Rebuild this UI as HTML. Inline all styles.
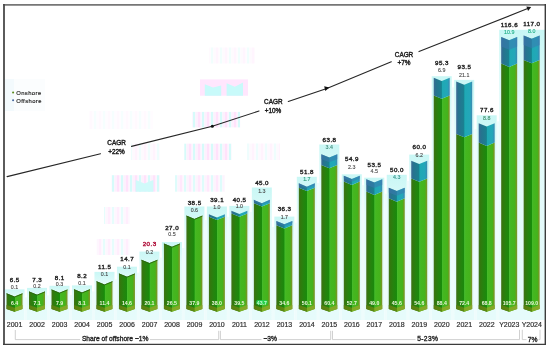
<!DOCTYPE html>
<html><head><meta charset="utf-8">
<style>
html,body{margin:0;padding:0;background:#fff;}
body{width:550px;height:349px;overflow:hidden;}
svg{display:block;will-change:transform;}
text{font-family:"Liberation Sans",sans-serif;text-anchor:middle;}
.tot{font-size:6.2px;stroke-width:0.4px;letter-spacing:0.45px;}
.off{font-size:5.3px;stroke-width:0.12px;}
.on{font-size:5.2px;font-weight:bold;fill:#eef8dc;}
.yr{font-size:7px;fill:#2e2e2e;stroke:#2e2e2e;stroke-width:0.18px;}
.cagr{font-size:6.4px;fill:#1e1e1e;stroke:#1e1e1e;stroke-width:0.4px;}
.lg{font-size:5.9px;fill:#1c1c1c;stroke:#1c1c1c;stroke-width:0.15px;letter-spacing:0.4px;text-anchor:start;}
.br{font-size:6.7px;fill:#262626;stroke:#262626;stroke-width:0.35px;}
</style></head>
<body>
<svg width="550" height="349" viewBox="0 0 550 349">
<defs>
<linearGradient id="gOn" x1="0" x2="1" y1="0" y2="0">
 <stop offset="0" stop-color="#44701a"/>
 <stop offset="0.1" stop-color="#32790e"/>
 <stop offset="0.3" stop-color="#24840e"/>
 <stop offset="0.47" stop-color="#1b890c"/>
 <stop offset="0.5" stop-color="#189009"/>
 <stop offset="0.52" stop-color="#46b92e"/>
 <stop offset="0.6" stop-color="#44b720"/>
 <stop offset="0.86" stop-color="#45b31c"/>
 <stop offset="0.93" stop-color="#6c9d20"/>
 <stop offset="1" stop-color="#7c962a"/>
</linearGradient>
<linearGradient id="gOff" x1="0" x2="1" y1="0" y2="0">
 <stop offset="0" stop-color="#3e6a94"/>
 <stop offset="0.14" stop-color="#27738f"/>
 <stop offset="0.46" stop-color="#1b8091"/>
 <stop offset="0.5" stop-color="#168a96"/>
 <stop offset="0.53" stop-color="#1fa9b4"/>
 <stop offset="0.85" stop-color="#23a7b9"/>
 <stop offset="1" stop-color="#3d88b2"/>
</linearGradient>
<linearGradient id="gBot" x1="0" x2="1" y1="0" y2="0">
 <stop offset="0" stop-color="#5a7e12"/>
 <stop offset="0.5" stop-color="#5e8a10"/>
 <stop offset="0.52" stop-color="#7fae24"/>
 <stop offset="1" stop-color="#86a62a"/>
</linearGradient>
<pattern id="gh" x="0" y="0" width="9" height="10" patternUnits="userSpaceOnUse">
 <rect x="0" y="0" width="2.6" height="10" fill="#ffe2fb"/>
 <rect x="2.6" y="0" width="1.4" height="10" fill="#fbf6ff"/>
 <rect x="4" y="0" width="2.4" height="10" fill="#d6fbfa"/>
 <rect x="6.4" y="0" width="2.6" height="10" fill="#fdf0fd"/>
</pattern>
<linearGradient id="gCy" x1="0" x2="0" y1="0" y2="1">
 <stop offset="0" stop-color="#c9f7f5"/>
 <stop offset="0.25" stop-color="#e2fbfa"/>
 <stop offset="1" stop-color="#e6fbfb"/>
</linearGradient>
</defs>
<rect x="0" y="0" width="550" height="349" fill="#fff"/>
<rect x="5" y="79" width="40" height="32" fill="#fbfdfe"/><rect x="5" y="79" width="9" height="32" fill="#f3fafd"/>
<g>
<rect x="200" y="79.4" width="48" height="16.3" fill="#ffe6fd"/>
<polygon points="204.8,84.3 213,87.5 221.2,85.4 221.2,95.7 204.8,95.7" fill="#c8fafa"/>
<polygon points="226.6,83.2 234.8,86.8 243,82.4 243,95.7 226.6,95.7" fill="#c8fafa"/>
<rect x="209" y="47.5" width="46" height="16" fill="url(#gh)" opacity="0.35"/>
<rect x="192" y="111.9" width="48.2" height="15.5" fill="url(#gh)"/>
<rect x="89" y="111" width="64" height="18" fill="url(#gh)" opacity="0.22"/>
<rect x="184.3" y="143.7" width="47.3" height="16.3" fill="url(#gh)"/>
<rect x="131" y="143.5" width="29" height="16.5" fill="url(#gh)" opacity="0.4"/>
<rect x="247" y="143.5" width="33" height="16.5" fill="url(#gh)" opacity="0.4"/>
<rect x="111.5" y="175.2" width="48.3" height="16.5" fill="url(#gh)"/>
<polygon points="135.6,180 144.5,183.5 153.4,180 153.4,191.7 135.6,191.7" fill="#d0fafa"/>
<rect x="175" y="175.2" width="49.7" height="16.5" fill="url(#gh)" opacity="0.8"/>
<rect x="104" y="207" width="26" height="17" fill="url(#gh)" opacity="0.6"/>
<rect x="96.7" y="239" width="33" height="16" fill="url(#gh)" opacity="0.6"/>
</g>

<rect x="4.53" y="289.4" width="20" height="30.6" fill="url(#gCy)"/>
<rect x="24.53" y="297.38" width="2.48" height="22.62" fill="#eefcfc"/>
<rect x="27.01" y="287.9" width="20" height="32.1" fill="url(#gCy)"/>
<rect x="47.01" y="295.43" width="2.48" height="24.57" fill="#eefcfc"/>
<rect x="49.5" y="285.8" width="20" height="34.2" fill="url(#gCy)"/>
<rect x="69.5" y="295.19" width="2.48" height="24.81" fill="#eefcfc"/>
<rect x="71.98" y="285.4" width="20" height="34.6" fill="url(#gCy)"/>
<rect x="91.98" y="291.4" width="2.48" height="28.6" fill="#eefcfc"/>
<rect x="94.47" y="271.9" width="20" height="48.1" fill="url(#gCy)"/>
<rect x="114.47" y="279.41" width="2.48" height="40.59" fill="#eefcfc"/>
<rect x="116.95" y="266.7" width="20" height="53.3" fill="url(#gCy)"/>
<rect x="136.95" y="272.7" width="2.48" height="47.3" fill="#eefcfc"/>
<rect x="139.43" y="251.6" width="20" height="68.4" fill="url(#gCy)"/>
<rect x="159.43" y="257.6" width="2.48" height="62.4" fill="#eefcfc"/>
<rect x="161.92" y="242.04" width="20" height="77.96" fill="url(#gCy)"/>
<rect x="181.92" y="248.04" width="2.48" height="71.96" fill="#eefcfc"/>
<rect x="184.4" y="206.5" width="20" height="113.5" fill="url(#gCy)"/>
<rect x="204.4" y="220.17" width="2.48" height="99.83" fill="#eefcfc"/>
<rect x="206.89" y="206.5" width="20" height="113.5" fill="url(#gCy)"/>
<rect x="226.89" y="216.77" width="2.48" height="103.23" fill="#eefcfc"/>
<rect x="229.37" y="205.9" width="20" height="114.1" fill="url(#gCy)"/>
<rect x="249.37" y="211.9" width="2.48" height="108.1" fill="#eefcfc"/>
<rect x="251.85" y="187.5" width="20" height="132.5" fill="url(#gCy)"/>
<rect x="271.85" y="226.96" width="2.48" height="93.04" fill="#eefcfc"/>
<rect x="274.34" y="216.6" width="20" height="103.4" fill="url(#gCy)"/>
<rect x="294.34" y="222.6" width="2.48" height="97.4" fill="#eefcfc"/>
<rect x="296.82" y="176.8" width="20" height="143.2" fill="url(#gCy)"/>
<rect x="316.82" y="182.8" width="2.48" height="137.2" fill="#eefcfc"/>
<rect x="319.31" y="144.5" width="20" height="175.5" fill="url(#gCy)"/>
<rect x="339.31" y="181.8" width="2.48" height="138.2" fill="#eefcfc"/>
<rect x="341.79" y="174.3" width="20" height="145.7" fill="url(#gCy)"/>
<rect x="361.79" y="185.2" width="2.48" height="134.8" fill="#eefcfc"/>
<rect x="364.27" y="177.7" width="20" height="142.3" fill="url(#gCy)"/>
<rect x="384.27" y="193.7" width="2.48" height="126.3" fill="#eefcfc"/>
<rect x="386.76" y="174.8" width="20" height="145.2" fill="url(#gCy)"/>
<rect x="406.76" y="180.8" width="2.48" height="139.2" fill="#eefcfc"/>
<rect x="409.24" y="154.6" width="20" height="165.4" fill="url(#gCy)"/>
<rect x="429.24" y="160.6" width="2.48" height="159.4" fill="#eefcfc"/>
<rect x="431.73" y="76.21" width="20" height="243.79" fill="url(#gCy)"/>
<rect x="451.73" y="87.4" width="2.48" height="232.6" fill="#eefcfc"/>
<rect x="454.21" y="79.9" width="20" height="240.1" fill="url(#gCy)"/>
<rect x="474.21" y="129.2" width="2.48" height="190.8" fill="#eefcfc"/>
<rect x="476.69" y="115.3" width="20" height="204.7" fill="url(#gCy)"/>
<rect x="496.69" y="121.3" width="2.48" height="198.7" fill="#eefcfc"/>
<rect x="499.18" y="29.8" width="45.82" height="290.2" fill="url(#gCy)"/>
<polygon points="6.53,293.32 14.53,296.62 22.53,293.32 22.53,309.1 14.53,311.8 6.53,309.1" fill="url(#gOn)"/>
<polyline points="6.53,293.77 14.53,297.07 22.53,293.77" stroke="#2c6410" stroke-width="0.9" fill="none"/>
<polygon points="6.53,305.1 14.53,307.8 22.53,305.1 22.53,309.1 14.53,311.8 6.53,309.1" fill="url(#gBot)"/>
<polygon points="29.01,291.38 37.01,294.68 45.01,291.38 45.01,309.1 37.01,311.8 29.01,309.1" fill="url(#gOn)"/>
<polyline points="29.01,291.83 37.01,295.13 45.01,291.83" stroke="#2c6410" stroke-width="0.9" fill="none"/>
<polygon points="29.01,305.1 37.01,307.8 45.01,305.1 45.01,309.1 37.01,311.8 29.01,309.1" fill="url(#gBot)"/>
<polygon points="51.5,289.43 59.5,292.73 67.5,289.43 67.5,309.1 59.5,311.8 51.5,309.1" fill="url(#gOn)"/>
<polyline points="51.5,289.88 59.5,293.18 67.5,289.88" stroke="#2c6410" stroke-width="0.9" fill="none"/>
<polygon points="51.5,305.1 59.5,307.8 67.5,305.1 67.5,309.1 59.5,311.8 51.5,309.1" fill="url(#gBot)"/>
<polygon points="73.98,289.19 81.98,292.49 89.98,289.19 89.98,309.1 81.98,311.8 73.98,309.1" fill="url(#gOn)"/>
<polyline points="73.98,289.64 81.98,292.94 89.98,289.64" stroke="#2c6410" stroke-width="0.9" fill="none"/>
<polygon points="73.98,305.1 81.98,307.8 89.98,305.1 89.98,309.1 81.98,311.8 73.98,309.1" fill="url(#gBot)"/>
<polygon points="96.47,281.18 104.47,284.48 112.47,281.18 112.47,309.1 104.47,311.8 96.47,309.1" fill="url(#gOn)"/>
<polyline points="96.47,281.63 104.47,284.93 112.47,281.63" stroke="#2c6410" stroke-width="0.9" fill="none"/>
<polygon points="96.47,305.1 104.47,307.8 112.47,305.1 112.47,309.1 104.47,311.8 96.47,309.1" fill="url(#gBot)"/>
<polygon points="118.95,273.41 126.95,276.71 134.95,273.41 134.95,309.1 126.95,311.8 118.95,309.1" fill="url(#gOn)"/>
<polyline points="118.95,273.86 126.95,277.16 134.95,273.86" stroke="#2c6410" stroke-width="0.9" fill="none"/>
<polygon points="118.95,305.1 126.95,307.8 134.95,305.1 134.95,309.1 126.95,311.8 118.95,309.1" fill="url(#gBot)"/>
<polygon points="141.43,259.81 149.43,263.11 157.43,259.81 157.43,309.1 149.43,311.8 141.43,309.1" fill="url(#gOn)"/>
<polyline points="141.43,260.26 149.43,263.56 157.43,260.26" stroke="#2c6410" stroke-width="0.9" fill="none"/>
<polygon points="141.43,305.1 149.43,307.8 157.43,305.1 157.43,309.1 149.43,311.8 141.43,309.1" fill="url(#gBot)"/>
<polygon points="163.92,243.54 171.92,246.84 179.92,243.54 179.92,309.1 171.92,311.8 163.92,309.1" fill="url(#gOn)"/>
<polyline points="163.92,243.99 171.92,247.29 179.92,243.99" stroke="#2c6410" stroke-width="0.9" fill="none"/>
<polygon points="163.92,305.1 171.92,307.8 179.92,305.1 179.92,309.1 171.92,311.8 163.92,309.1" fill="url(#gBot)"/>
<polygon points="186.4,215.62 194.4,218.92 202.4,215.62 202.4,309.1 194.4,311.8 186.4,309.1" fill="url(#gOn)"/>
<polyline points="186.4,216.07 194.4,219.37 202.4,216.07" stroke="#2c6410" stroke-width="0.9" fill="none"/>
<polygon points="186.4,305.1 194.4,307.8 202.4,305.1 202.4,309.1 194.4,311.8 186.4,309.1" fill="url(#gBot)"/>
<polygon points="208.89,216.79 216.89,220.09 224.89,216.79 224.89,309.1 216.89,311.8 208.89,309.1" fill="url(#gOn)"/>
<polygon points="208.89,214.17 216.89,217.47 224.89,214.17 224.89,216.79 216.89,220.09 208.89,216.79" fill="url(#gOff)"/>
<polygon points="208.89,305.1 216.89,307.8 224.89,305.1 224.89,309.1 216.89,311.8 208.89,309.1" fill="url(#gBot)"/>
<polygon points="231.37,213.39 239.37,216.69 247.37,213.39 247.37,309.1 239.37,311.8 231.37,309.1" fill="url(#gOn)"/>
<polygon points="231.37,210.77 239.37,214.07 247.37,210.77 247.37,213.39 239.37,216.69 231.37,213.39" fill="url(#gOff)"/>
<polygon points="231.37,305.1 239.37,307.8 247.37,305.1 247.37,309.1 239.37,311.8 231.37,309.1" fill="url(#gBot)"/>
<polygon points="253.85,203.2 261.85,206.5 269.85,203.2 269.85,309.1 261.85,311.8 253.85,309.1" fill="url(#gOn)"/>
<polygon points="253.85,199.84 261.85,203.14 269.85,199.84 269.85,203.2 261.85,206.5 253.85,203.2" fill="url(#gOff)"/>
<polygon points="253.85,199.84 261.85,203.14 269.85,199.84 269.85,201.35 261.85,204.65 253.85,201.35" fill="#3d78b0" fill-opacity="0.55"/>
<polygon points="253.85,305.1 261.85,307.8 269.85,305.1 269.85,309.1 261.85,311.8 253.85,309.1" fill="url(#gBot)"/>
<polygon points="276.34,225.29 284.34,228.59 292.34,225.29 292.34,309.1 284.34,311.8 276.34,309.1" fill="url(#gOn)"/>
<polygon points="276.34,220.96 284.34,224.26 292.34,220.96 292.34,225.29 284.34,228.59 276.34,225.29" fill="url(#gOff)"/>
<polygon points="276.34,220.96 284.34,224.26 292.34,220.96 292.34,222.91 284.34,226.21 276.34,222.91" fill="#3d78b0" fill-opacity="0.55"/>
<polygon points="276.34,305.1 284.34,307.8 292.34,305.1 292.34,309.1 284.34,311.8 276.34,309.1" fill="url(#gBot)"/>
<polygon points="298.82,187.66 306.82,190.96 314.82,187.66 314.82,309.1 306.82,311.8 298.82,309.1" fill="url(#gOn)"/>
<polygon points="298.82,183.33 306.82,186.63 314.82,183.33 314.82,187.66 306.82,190.96 298.82,187.66" fill="url(#gOff)"/>
<polygon points="298.82,183.33 306.82,186.63 314.82,183.33 314.82,185.28 306.82,188.58 298.82,185.28" fill="#3d78b0" fill-opacity="0.55"/>
<polygon points="298.82,305.1 306.82,307.8 314.82,305.1 314.82,309.1 306.82,311.8 298.82,309.1" fill="url(#gBot)"/>
<polygon points="321.31,165 329.31,168.3 337.31,165 337.31,309.1 329.31,311.8 321.31,309.1" fill="url(#gOn)"/>
<polygon points="321.31,154.19 329.31,157.49 337.31,154.19 337.31,165 329.31,168.3 321.31,165" fill="url(#gOff)"/>
<polygon points="321.31,154.19 329.31,157.49 337.31,154.19 337.31,159.06 329.31,162.36 321.31,159.06" fill="#3d78b0" fill-opacity="0.55"/>
<polygon points="321.31,305.1 329.31,307.8 337.31,305.1 337.31,309.1 329.31,311.8 321.31,309.1" fill="url(#gBot)"/>
<polygon points="343.79,181.59 351.79,184.89 359.79,181.59 359.79,309.1 351.79,311.8 343.79,309.1" fill="url(#gOn)"/>
<polygon points="343.79,175.8 351.79,179.1 359.79,175.8 359.79,181.59 351.79,184.89 343.79,181.59" fill="url(#gOff)"/>
<polygon points="343.79,175.8 351.79,179.1 359.79,175.8 359.79,178.41 351.79,181.71 343.79,178.41" fill="#3d78b0" fill-opacity="0.55"/>
<polygon points="343.79,305.1 351.79,307.8 359.79,305.1 359.79,309.1 351.79,311.8 343.79,309.1" fill="url(#gBot)"/>
<polygon points="366.27,191.6 374.27,194.9 382.27,191.6 382.27,309.1 374.27,311.8 366.27,309.1" fill="url(#gOn)"/>
<polygon points="366.27,179.2 374.27,182.5 382.27,179.2 382.27,191.6 374.27,194.9 366.27,191.6" fill="url(#gOff)"/>
<polygon points="366.27,179.2 374.27,182.5 382.27,179.2 382.27,184.78 374.27,188.08 366.27,184.78" fill="#3d78b0" fill-opacity="0.55"/>
<polygon points="366.27,305.1 374.27,307.8 382.27,305.1 382.27,309.1 374.27,311.8 366.27,309.1" fill="url(#gBot)"/>
<polygon points="388.76,198.34 396.76,201.64 404.76,198.34 404.76,309.1 396.76,311.8 388.76,309.1" fill="url(#gOn)"/>
<polygon points="388.76,187.7 396.76,191 404.76,187.7 404.76,198.34 396.76,201.64 388.76,198.34" fill="url(#gOff)"/>
<polygon points="388.76,187.7 396.76,191 404.76,187.7 404.76,192.49 396.76,195.79 388.76,192.49" fill="#3d78b0" fill-opacity="0.55"/>
<polygon points="388.76,305.1 396.76,307.8 404.76,305.1 404.76,309.1 396.76,311.8 388.76,309.1" fill="url(#gBot)"/>
<polygon points="411.24,178.4 419.24,181.7 427.24,178.4 427.24,309.1 419.24,311.8 411.24,309.1" fill="url(#gOn)"/>
<polygon points="411.24,160.8 419.24,164.1 427.24,160.8 427.24,178.4 419.24,181.7 411.24,178.4" fill="url(#gOff)"/>
<polygon points="411.24,305.1 419.24,307.8 427.24,305.1 427.24,309.1 419.24,311.8 411.24,309.1" fill="url(#gBot)"/>
<polygon points="433.73,95.4 441.73,98.7 449.73,95.4 449.73,309.1 441.73,311.8 433.73,309.1" fill="url(#gOn)"/>
<polygon points="433.73,77.71 441.73,81.01 449.73,77.71 449.73,95.4 441.73,98.7 433.73,95.4" fill="url(#gOff)"/>
<polygon points="433.73,305.1 441.73,307.8 449.73,305.1 449.73,309.1 441.73,311.8 433.73,309.1" fill="url(#gBot)"/>
<polygon points="456.21,134 464.21,137.3 472.21,134 472.21,309.1 464.21,311.8 456.21,309.1" fill="url(#gOn)"/>
<polygon points="456.21,81.4 464.21,84.7 472.21,81.4 472.21,134 464.21,137.3 456.21,134" fill="url(#gOff)"/>
<polygon points="456.21,305.1 464.21,307.8 472.21,305.1 472.21,309.1 464.21,311.8 456.21,309.1" fill="url(#gBot)"/>
<polygon points="478.69,142.6 486.69,145.9 494.69,142.6 494.69,309.1 486.69,311.8 478.69,309.1" fill="url(#gOn)"/>
<polygon points="478.69,123.2 486.69,126.5 494.69,123.2 494.69,142.6 486.69,145.9 478.69,142.6" fill="url(#gOff)"/>
<polygon points="478.69,305.1 486.69,307.8 494.69,305.1 494.69,309.1 486.69,311.8 478.69,309.1" fill="url(#gBot)"/>
<polygon points="501.18,63.6 509.18,66.9 517.18,63.6 517.18,309.1 509.18,311.8 501.18,309.1" fill="url(#gOn)"/>
<polygon points="501.18,36.9 509.18,40.2 517.18,36.9 517.18,63.6 509.18,66.9 501.18,63.6" fill="url(#gOff)"/>
<polygon points="501.18,36.9 509.18,40.2 517.18,36.9 517.18,46.4 509.18,49.7 501.18,46.4" fill="#3d78b0" fill-opacity="0.55"/>
<polygon points="501.18,305.1 509.18,307.8 517.18,305.1 517.18,309.1 509.18,311.8 501.18,309.1" fill="url(#gBot)"/>
<polygon points="523.66,60 531.66,63.3 539.66,60 539.66,309.1 531.66,311.8 523.66,309.1" fill="url(#gOn)"/>
<polygon points="523.66,35.5 531.66,38.8 539.66,35.5 539.66,60 531.66,63.3 523.66,60" fill="url(#gOff)"/>
<polygon points="523.66,35.5 531.66,38.8 539.66,35.5 539.66,45 531.66,48.3 523.66,45" fill="#3d78b0" fill-opacity="0.55"/>
<polygon points="523.66,305.1 531.66,307.8 539.66,305.1 539.66,309.1 531.66,311.8 523.66,309.1" fill="url(#gBot)"/>
<text x="14.75" y="281.5" class="tot" fill="#262626" stroke="#262626">6.5</text>
<text x="14.53" y="289.1" class="off" fill="#4a4a4a" stroke="#4a4a4a">0.1</text>
<text x="14.53" y="304.6" class="on">6.4</text>
<text x="14.63" y="327" class="yr">2001</text>
<text x="37.23" y="281.7" class="tot" fill="#262626" stroke="#262626">7.3</text>
<text x="37.01" y="287.6" class="off" fill="#4a4a4a" stroke="#4a4a4a">0.2</text>
<text x="37.01" y="304.6" class="on">7.1</text>
<text x="37.11" y="327" class="yr">2002</text>
<text x="59.72" y="279.7" class="tot" fill="#262626" stroke="#262626">8.1</text>
<text x="59.5" y="285.5" class="off" fill="#4a4a4a" stroke="#4a4a4a">0.3</text>
<text x="59.5" y="304.6" class="on">7.9</text>
<text x="59.6" y="327" class="yr">2003</text>
<text x="82.2" y="277.5" class="tot" fill="#262626" stroke="#262626">8.2</text>
<text x="81.98" y="285.1" class="off" fill="#4a4a4a" stroke="#4a4a4a">0.1</text>
<text x="81.98" y="304.6" class="on">8.1</text>
<text x="82.08" y="327" class="yr">2004</text>
<text x="104.69" y="268.7" class="tot" fill="#262626" stroke="#262626">11.5</text>
<text x="104.47" y="276.4" class="off" fill="#4a4a4a" stroke="#4a4a4a">0.1</text>
<text x="104.47" y="304.6" class="on">11.4</text>
<text x="104.57" y="327" class="yr">2005</text>
<text x="127.17" y="261.1" class="tot" fill="#262626" stroke="#262626">14.7</text>
<text x="126.95" y="268.7" class="off" fill="#4a4a4a" stroke="#4a4a4a">0.1</text>
<text x="126.95" y="304.6" class="on">14.6</text>
<text x="127.05" y="327" class="yr">2006</text>
<text x="149.65" y="246" class="tot" fill="#b0103a" stroke="#b0103a">20.3</text>
<text x="149.43" y="253.6" class="off" fill="#4a4a4a" stroke="#4a4a4a">0.2</text>
<text x="149.43" y="304.6" class="on">20.1</text>
<text x="149.53" y="327" class="yr">2007</text>
<text x="172.14" y="229.6" class="tot" fill="#262626" stroke="#262626">27.0</text>
<text x="171.92" y="236.1" class="off" fill="#4a4a4a" stroke="#4a4a4a">0.5</text>
<text x="171.92" y="304.6" class="on">26.5</text>
<text x="172.02" y="327" class="yr">2008</text>
<text x="194.62" y="205.2" class="tot" fill="#262626" stroke="#262626">38.5</text>
<text x="194.4" y="211.5" class="off" fill="#4a4a4a" stroke="#4a4a4a">0.6</text>
<text x="194.4" y="304.6" class="on">37.9</text>
<text x="194.5" y="327" class="yr">2009</text>
<text x="217.11" y="202.2" class="tot" fill="#262626" stroke="#262626">39.1</text>
<text x="216.89" y="208.5" class="off" fill="#4a4a4a" stroke="#4a4a4a">1.0</text>
<text x="216.89" y="304.6" class="on">38.0</text>
<text x="216.99" y="327" class="yr">2010</text>
<text x="239.59" y="202.2" class="tot" fill="#262626" stroke="#262626">40.5</text>
<text x="239.37" y="207.9" class="off" fill="#4a4a4a" stroke="#4a4a4a">1.0</text>
<text x="239.37" y="304.6" class="on">39.5</text>
<text x="239.47" y="327" class="yr">2011</text>
<text x="262.07" y="185" class="tot" fill="#262626" stroke="#262626">45.0</text>
<text x="261.85" y="192.5" class="off" fill="#4a4a4a" stroke="#4a4a4a">1.3</text>
<rect x="256.25" y="299.9" width="11.2" height="4.5" rx="1.5" fill="#22d456" opacity="0.85"/>
<text x="261.85" y="304.6" class="on" style="fill:#c8ffd4">43.7</text>
<text x="261.95" y="327" class="yr">2012</text>
<text x="284.56" y="211.2" class="tot" fill="#262626" stroke="#262626">36.3</text>
<text x="284.34" y="218.6" class="off" fill="#4a4a4a" stroke="#4a4a4a">1.7</text>
<text x="284.34" y="304.6" class="on">34.6</text>
<text x="284.44" y="327" class="yr">2013</text>
<text x="307.04" y="174.2" class="tot" fill="#262626" stroke="#262626">51.8</text>
<text x="306.82" y="181.3" class="off" fill="#2f9a7a" stroke="#2f9a7a">1.7</text>
<text x="306.82" y="304.6" class="on">50.1</text>
<text x="306.92" y="327" class="yr">2014</text>
<text x="329.53" y="142.4" class="tot" fill="#262626" stroke="#262626">63.8</text>
<text x="329.31" y="149" class="off" fill="#3f8a7a" stroke="#3f8a7a">3.4</text>
<text x="329.31" y="304.6" class="on">60.4</text>
<text x="329.41" y="327" class="yr">2015</text>
<text x="352.01" y="160.6" class="tot" fill="#262626" stroke="#262626">54.9</text>
<text x="351.79" y="168.6" class="off" fill="#4a4a4a" stroke="#4a4a4a">2.3</text>
<text x="351.79" y="304.6" class="on">52.7</text>
<text x="351.89" y="327" class="yr">2016</text>
<text x="374.49" y="166.5" class="tot" fill="#262626" stroke="#262626">53.5</text>
<text x="374.27" y="173" class="off" fill="#4a4a4a" stroke="#4a4a4a">4.5</text>
<text x="374.27" y="304.6" class="on">49.0</text>
<text x="374.37" y="327" class="yr">2017</text>
<text x="396.98" y="171.5" class="tot" fill="#262626" stroke="#262626">50.0</text>
<text x="396.76" y="179.3" class="off" fill="#2f8f86" stroke="#2f8f86">4.3</text>
<text x="396.76" y="304.6" class="on">45.6</text>
<text x="396.86" y="327" class="yr">2018</text>
<text x="419.46" y="148.8" class="tot" fill="#262626" stroke="#262626">60.0</text>
<text x="419.24" y="156.6" class="off" fill="#4a4a4a" stroke="#4a4a4a">6.2</text>
<text x="419.24" y="304.6" class="on">54.6</text>
<text x="419.34" y="327" class="yr">2019</text>
<text x="441.95" y="65.2" class="tot" fill="#262626" stroke="#262626">95.3</text>
<text x="441.73" y="72.2" class="off" fill="#4a4a4a" stroke="#4a4a4a">6.9</text>
<text x="441.73" y="304.6" class="on">88.4</text>
<text x="441.83" y="327" class="yr">2020</text>
<text x="464.43" y="69" class="tot" fill="#262626" stroke="#262626">93.5</text>
<text x="464.21" y="76.5" class="off" fill="#4a4a4a" stroke="#4a4a4a">21.1</text>
<text x="464.21" y="304.6" class="on">72.4</text>
<text x="464.31" y="327" class="yr">2021</text>
<text x="486.91" y="112" class="tot" fill="#262626" stroke="#262626">77.6</text>
<text x="486.69" y="119.8" class="off" fill="#3f8f6a" stroke="#3f8f6a">8.8</text>
<text x="486.69" y="304.6" class="on">68.8</text>
<text x="486.79" y="327" class="yr">2022</text>
<text x="509.4" y="27.2" class="tot" fill="#262626" stroke="#262626">116.6</text>
<text x="509.18" y="34.3" class="off" fill="#1fae86" stroke="#1fae86">10.9</text>
<text x="509.18" y="304.6" class="on">105.7</text>
<text x="509.28" y="327" class="yr">Y2023</text>
<text x="531.88" y="26.2" class="tot" fill="#262626" stroke="#262626">117.0</text>
<text x="531.66" y="32.9" class="off" fill="#1fae86" stroke="#1fae86">8.0</text>
<text x="531.66" y="304.6" class="on">109.0</text>
<text x="531.76" y="327" class="yr">Y2024</text>
<!-- CAGR line -->
<g stroke="#262626" stroke-width="1.1" fill="none" stroke-linecap="round">
<polyline points="7.1,176.6 100.5,153.7"/>
<polyline points="131.5,146.4 212.3,126.2 259,111"/>
<polyline points="288.3,101.5 326.8,88.5 391.3,61.7"/>
<polyline points="419,51.6 528.3,8.3"/>
</g>
<polygon points="531.2,7.1 526.4,6.6 528.1,10.9" fill="#1a1a1a"/>
<circle cx="212.3" cy="126.2" r="1.5" fill="#111"/>
<polygon points="329.4,87.5 324.2,86.2 325.3,91.1" fill="#111"/>
<text x="116.6" y="145.2" class="cagr">CAGR</text>
<text x="116.5" y="154.3" class="cagr">+22%</text>
<text x="273.3" y="104.1" class="cagr">CAGR</text>
<text x="273" y="113.4" class="cagr">+10%</text>
<text x="404" y="56.6" class="cagr">CAGR</text>
<text x="404" y="65" class="cagr">+7%</text>
<!-- legend -->
<circle cx="13.1" cy="92.5" r="1.05" fill="#5a8a1a"/>
<circle cx="13.1" cy="100.3" r="1.05" fill="#4a6aa0"/>
<text x="16.2" y="95" class="lg">Onshore</text>
<text x="16.2" y="102.9" class="lg">Offshore</text>
<!-- brackets -->
<g stroke="#c4c4c4" stroke-width="0.8" fill="none">
<polyline points="15.3,330 15.3,339.6 80,339.6"/>
<polyline points="150,339.6 218.7,339.6 218.7,330.8"/>
<polyline points="220.4,330.8 220.4,339.6 261.5,339.6"/>
<polyline points="278.5,339.6 330.7,339.6 330.7,330.8"/>
<polyline points="332.5,330.8 332.5,339.6 415.5,339.6"/>
<polyline points="440,339.6 519.5,339.6 519.5,329.8"/>
<polyline points="522.3,329.8 522.3,339.6 526.5,339.6"/>
<polyline points="538.5,339.6 540,339.6 540,329.8"/>
</g>
<text x="115.2" y="341.3" class="br">Share of offshore ~1%</text>
<text x="270.2" y="341.3" class="br">~3%</text>
<text x="427.8" y="341.3" class="br" style="letter-spacing:0.4px">5-23%</text>
<text x="532.5" y="341.6" class="br">7%</text>
<!-- frame -->
<line x1="3" y1="4.85" x2="546" y2="4.85" stroke="#767676" stroke-width="1.7"/>
<line x1="4" y1="4" x2="4" y2="345" stroke="#4a4a4a" stroke-width="1.8"/>
<line x1="545.3" y1="4" x2="545.3" y2="345" stroke="#3c3c3c" stroke-width="1.4"/>
<line x1="3" y1="344.45" x2="546" y2="344.45" stroke="#3c3c3c" stroke-width="1.2"/>
</svg>
</body></html>
